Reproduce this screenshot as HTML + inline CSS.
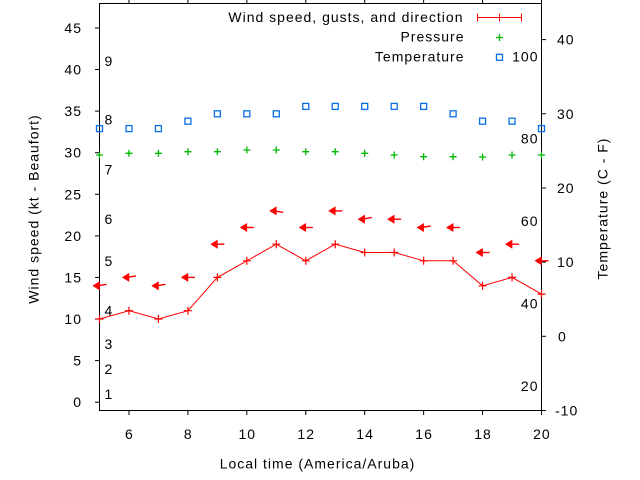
<!DOCTYPE html>
<html>
<head>
<meta charset="utf-8">
<style>
html,body{margin:0;padding:0;background:#fff;}
svg{display:block;}
text{font-family:"Liberation Sans","DejaVu Sans",sans-serif;font-size:14px;letter-spacing:1px;fill:#000;}
</style>
</head>
<body>
<svg width="640" height="480" viewBox="0 0 640 480" xmlns="http://www.w3.org/2000/svg">
<rect x="0" y="0" width="640" height="480" fill="#fff"/>

<!-- frame -->
<rect x="99.5" y="3.5" width="442" height="407" fill="none" stroke="#000" stroke-width="1"/>

<!-- left ticks -->
<g stroke="#000" stroke-width="1">
<line x1="95" y1="402.2" x2="99.5" y2="402.2"/>
<line x1="95" y1="360.6" x2="99.5" y2="360.6"/>
<line x1="95" y1="319.0" x2="99.5" y2="319.0"/>
<line x1="95" y1="277.4" x2="99.5" y2="277.4"/>
<line x1="95" y1="235.9" x2="99.5" y2="235.9"/>
<line x1="95" y1="194.3" x2="99.5" y2="194.3"/>
<line x1="95" y1="152.7" x2="99.5" y2="152.7"/>
<line x1="95" y1="111.1" x2="99.5" y2="111.1"/>
<line x1="95" y1="69.5" x2="99.5" y2="69.5"/>
<line x1="95" y1="28.0" x2="99.5" y2="28.0"/>
<!-- right ticks -->
<line x1="541.5" y1="39.6" x2="546" y2="39.6"/>
<line x1="541.5" y1="113.8" x2="546" y2="113.8"/>
<line x1="541.5" y1="188.0" x2="546" y2="188.0"/>
<line x1="541.5" y1="262.1" x2="546" y2="262.1"/>
<line x1="541.5" y1="336.3" x2="546" y2="336.3"/>
<line x1="541.5" y1="410.5" x2="546" y2="410.5"/>
<!-- bottom ticks -->
<line x1="128.97" y1="410.5" x2="128.97" y2="415"/>
<line x1="187.9" y1="410.5" x2="187.9" y2="415"/>
<line x1="246.83" y1="410.5" x2="246.83" y2="415"/>
<line x1="305.77" y1="410.5" x2="305.77" y2="415"/>
<line x1="364.7" y1="410.5" x2="364.7" y2="415"/>
<line x1="423.64" y1="410.5" x2="423.64" y2="415"/>
<line x1="482.57" y1="410.5" x2="482.57" y2="415"/>
<line x1="541.5" y1="410.5" x2="541.5" y2="415"/>
<!-- top ticks -->
<line x1="128.97" y1="3.5" x2="128.97" y2="0"/>
<line x1="187.9" y1="3.5" x2="187.9" y2="0"/>
<line x1="246.83" y1="3.5" x2="246.83" y2="0"/>
<line x1="305.77" y1="3.5" x2="305.77" y2="0"/>
<line x1="364.7" y1="3.5" x2="364.7" y2="0"/>
<line x1="423.64" y1="3.5" x2="423.64" y2="0"/>
<line x1="482.57" y1="3.5" x2="482.57" y2="0"/>
<line x1="541.5" y1="3.5" x2="541.5" y2="0"/>
</g>

<!-- left tick labels -->
<g text-anchor="end">
<text x="82" y="407.2">0</text>
<text x="82" y="365.6">5</text>
<text x="82" y="324.0">10</text>
<text x="82" y="282.4">15</text>
<text x="82" y="240.9">20</text>
<text x="82" y="199.3">25</text>
<text x="82" y="157.7">30</text>
<text x="82" y="116.1">35</text>
<text x="82" y="74.5">40</text>
<text x="82" y="33.0">45</text>
</g>

<!-- right tick labels -->
<g text-anchor="start">
<text x="557" y="44.6">40</text>
<text x="557" y="118.8">30</text>
<text x="557" y="193.0">20</text>
<text x="557" y="267.1">10</text>
<text x="558" y="341.3">0</text>
<text x="555" y="415.5">-10</text>
</g>

<!-- bottom tick labels -->
<g text-anchor="middle">
<text x="129.4" y="438.8">6</text>
<text x="188.3" y="438.8">8</text>
<text x="247.3" y="438.8">10</text>
<text x="306.2" y="438.8">12</text>
<text x="365.1" y="438.8">14</text>
<text x="424.1" y="438.8">16</text>
<text x="483.0" y="438.8">18</text>
<text x="541.9" y="438.8">20</text>
</g>

<!-- axis labels -->
<text x="317.5" y="468.5" text-anchor="middle">Local time (America/Aruba)</text>
<text transform="translate(38.5,209) rotate(-90)" text-anchor="middle">Wind speed (kt - Beaufort)</text>
<text transform="translate(607.5,208.5) rotate(-90)" text-anchor="middle">Temperature (C - F)</text>

<!-- Beaufort labels -->
<g text-anchor="start">
<text x="104.5" y="398.9">1</text>
<text x="104.5" y="373.9">2</text>
<text x="104.5" y="349.0">3</text>
<text x="104.5" y="315.7">4</text>
<text x="104.5" y="265.8">5</text>
<text x="104.5" y="224.2">6</text>
<text x="104.5" y="174.3">7</text>
<text x="104.5" y="124.4">8</text>
<text x="104.5" y="66.2">9</text>
</g>

<!-- Fahrenheit labels -->
<g text-anchor="end">
<text x="538.5" y="61.3">100</text>
<text x="538.5" y="143.5">80</text>
<text x="538.5" y="225.9">60</text>
<text x="538.5" y="308.4">40</text>
<text x="538.5" y="390.8">20</text>
</g>

<!-- legend -->
<g text-anchor="end">
<text x="463.5" y="22">Wind speed, gusts, and direction</text>
<text x="464.5" y="41.7">Pressure</text>
<text x="464.5" y="61.3">Temperature</text>
</g>
<g stroke="#ff0000" stroke-width="1" fill="none">
<line x1="477.5" y1="17.5" x2="521.5" y2="17.5"/>
<line x1="477.5" y1="13.5" x2="477.5" y2="21.5"/>
<line x1="521.5" y1="13.5" x2="521.5" y2="21.5"/>
<line x1="499.5" y1="13.5" x2="499.5" y2="21.5"/>
</g>
<g stroke="#00b800" stroke-width="1.3">
<line x1="496" y1="37.5" x2="503" y2="37.5"/>
<line x1="499.5" y1="34" x2="499.5" y2="41"/>
</g>
<rect x="496.5" y="54.3" width="6" height="6" fill="none" stroke="#0a70e8" stroke-width="1.3"/>

<!-- wind speed line -->
<polyline fill="none" stroke="#ff0000" stroke-width="1" points="99.5,319.0 128.97,310.7 158.43,319.0 187.9,310.7 217.37,277.4 246.83,260.8 276.3,244.2 305.77,260.8 335.24,244.2 364.7,252.5 394.17,252.5 423.64,260.8 453.1,260.8 482.57,285.8 512.04,277.4 541.5,294.1"/>
<g stroke="#ff0000" stroke-width="1.2">
<path d="M95.5 319.0h8M99.5 315v8"/>
<path d="M124.97 310.7h8M128.97 306.7v8"/>
<path d="M154.43 319.0h8M158.43 315v8"/>
<path d="M183.9 310.7h8M187.9 306.7v8"/>
<path d="M213.37 277.4h8M217.37 273.4v8"/>
<path d="M242.83 260.8h8M246.83 256.8v8"/>
<path d="M272.3 244.2h8M276.3 240.2v8"/>
<path d="M301.77 260.8h8M305.77 256.8v8"/>
<path d="M331.24 244.2h8M335.24 240.2v8"/>
<path d="M360.7 252.5h8M364.7 248.5v8"/>
<path d="M390.17 252.5h8M394.17 248.5v8"/>
<path d="M419.64 260.8h8M423.64 256.8v8"/>
<path d="M449.1 260.8h8M453.1 256.8v8"/>
<path d="M478.57 285.8h8M482.57 281.8v8"/>
<path d="M508.04 277.4h8M512.04 273.4v8"/>
<path d="M537.5 294.1h8M541.5 290.1v8"/>
</g>

<!-- gust arrows -->
<g fill="#ff0000" stroke="#ff0000" stroke-width="1.4">
<g transform="translate(99.5,285.8)"><line x1="-2" y1="0" x2="7" y2="-1.5"/><polygon points="-6.5,0 0,-4 0,4" stroke-width="0.6"/></g>
<g transform="translate(128.97,277.4)"><line x1="-2" y1="0" x2="7" y2="-1.5"/><polygon points="-6.5,0 0,-4 0,4" stroke-width="0.6"/></g>
<g transform="translate(158.43,285.8)"><line x1="-2" y1="0" x2="7" y2="-1.5"/><polygon points="-6.5,0 0,-4 0,4" stroke-width="0.6"/></g>
<g transform="translate(187.9,277.4)"><line x1="-2" y1="0" x2="7" y2="0"/><polygon points="-6.5,0 0,-4 0,4" stroke-width="0.6"/></g>
<g transform="translate(217.37,244.2)"><line x1="-2" y1="0" x2="7" y2="0"/><polygon points="-6.5,0 0,-4 0,4" stroke-width="0.6"/></g>
<g transform="translate(246.83,227.5)"><line x1="-2" y1="0" x2="7" y2="0"/><polygon points="-6.5,0 0,-4 0,4" stroke-width="0.6"/></g>
<g transform="translate(276.3,210.9)"><line x1="-2" y1="0" x2="7" y2="1.5"/><polygon points="-6.5,0 0,-4 0,4" stroke-width="0.6"/></g>
<g transform="translate(305.77,227.5)"><line x1="-2" y1="0" x2="7" y2="0"/><polygon points="-6.5,0 0,-4 0,4" stroke-width="0.6"/></g>
<g transform="translate(335.24,210.9)"><line x1="-2" y1="0" x2="7" y2="0"/><polygon points="-6.5,0 0,-4 0,4" stroke-width="0.6"/></g>
<g transform="translate(364.7,219.2)"><line x1="-2" y1="0" x2="7" y2="-1.8"/><polygon points="-6.5,0 0,-4 0,4" stroke-width="0.6"/></g>
<g transform="translate(394.17,219.2)"><line x1="-2" y1="0" x2="7" y2="0"/><polygon points="-6.5,0 0,-4 0,4" stroke-width="0.6"/></g>
<g transform="translate(423.64,227.5)"><line x1="-2" y1="0" x2="7" y2="-1.5"/><polygon points="-6.5,0 0,-4 0,4" stroke-width="0.6"/></g>
<g transform="translate(453.1,227.5)"><line x1="-2" y1="0" x2="7" y2="0"/><polygon points="-6.5,0 0,-4 0,4" stroke-width="0.6"/></g>
<g transform="translate(482.57,252.5)"><line x1="-2" y1="0" x2="7" y2="0"/><polygon points="-6.5,0 0,-4 0,4" stroke-width="0.6"/></g>
<g transform="translate(512.04,244.2)"><line x1="-2" y1="0" x2="7" y2="0"/><polygon points="-6.5,0 0,-4 0,4" stroke-width="0.6"/></g>
<g transform="translate(541.5,260.8)"><line x1="-2" y1="0" x2="7" y2="0"/><polygon points="-6.5,0 0,-4 0,4" stroke-width="0.6"/></g>
</g>

<!-- pressure -->
<g stroke="#00b800" stroke-width="1.3">
<path d="M96 155h7M99.5 151.5v7"/>
<path d="M125.47 153.3h7M128.97 149.8v7"/>
<path d="M154.93 153.3h7M158.43 149.8v7"/>
<path d="M184.4 151.7h7M187.9 148.2v7"/>
<path d="M213.87 151.7h7M217.37 148.2v7"/>
<path d="M243.33 150h7M246.83 146.5v7"/>
<path d="M272.8 150h7M276.3 146.5v7"/>
<path d="M302.27 151.7h7M305.77 148.2v7"/>
<path d="M331.74 151.7h7M335.24 148.2v7"/>
<path d="M361.2 153.3h7M364.7 149.8v7"/>
<path d="M390.67 155h7M394.17 151.5v7"/>
<path d="M420.14 156.7h7M423.64 153.2v7"/>
<path d="M449.6 156.7h7M453.1 153.2v7"/>
<path d="M479.07 157h7M482.57 153.5v7"/>
<path d="M508.54 155h7M512.04 151.5v7"/>
<path d="M538 155h7M541.5 151.5v7"/>
</g>

<!-- temperature -->
<g fill="none" stroke="#0a70e8" stroke-width="1.3">
<rect x="96.5" y="125.6" width="6" height="6"/>
<rect x="125.97" y="125.6" width="6" height="6"/>
<rect x="155.43" y="125.6" width="6" height="6"/>
<rect x="184.9" y="118.2" width="6" height="6"/>
<rect x="214.37" y="110.8" width="6" height="6"/>
<rect x="243.83" y="110.8" width="6" height="6"/>
<rect x="273.3" y="110.8" width="6" height="6"/>
<rect x="302.77" y="103.4" width="6" height="6"/>
<rect x="332.24" y="103.4" width="6" height="6"/>
<rect x="361.7" y="103.4" width="6" height="6"/>
<rect x="391.17" y="103.4" width="6" height="6"/>
<rect x="420.64" y="103.4" width="6" height="6"/>
<rect x="450.1" y="110.8" width="6" height="6"/>
<rect x="479.57" y="118.2" width="6" height="6"/>
<rect x="509.04" y="118.2" width="6" height="6"/>
<rect x="538.5" y="125.6" width="6" height="6"/>
</g>
</svg>
</body>
</html>
